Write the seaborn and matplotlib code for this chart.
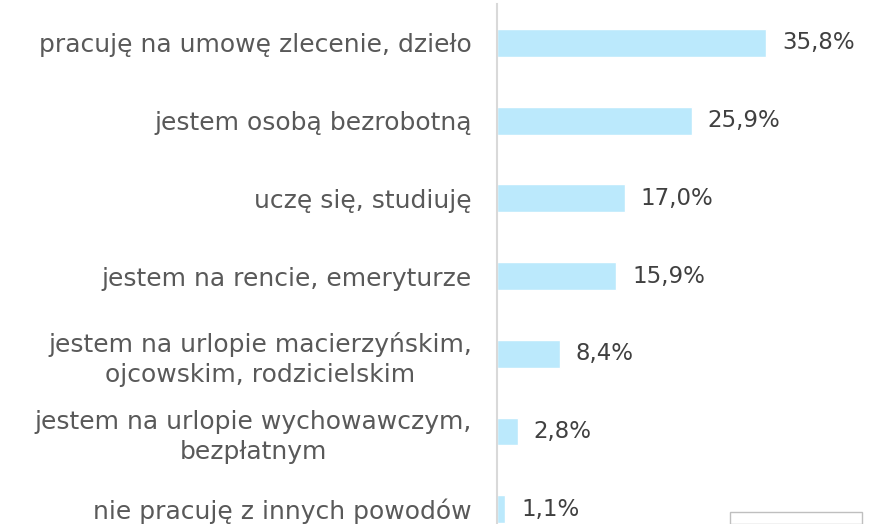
import matplotlib.pyplot as plt
import seaborn as sns
import pandas as pd
from matplotlib.patches import Rectangle

# data
categories = [
    "pracuję na umowę zlecenie, dzieło",
    "jestem osobą bezrobotną",
    "uczę się, studiuję",
    "jestem na rencie, emeryturze",
    "jestem na urlopie macierzyńskim,\nojcowskim, rodzicielskim",
    "jestem na urlopie wychowawczym,\nbezpłatnym",
    "nie pracuję z innych powodów",
]
values = [35.8, 25.9, 17.0, 15.9, 8.4, 2.8, 1.1]
value_labels = ["35,8%", "25,9%", "17,0%", "15,9%", "8,4%", "2,8%", "1,1%"]

df = pd.DataFrame({"category": categories, "value": values})

sns.set_style("white")
plt.rcParams['font.family'] = ['DejaVu Sans']

W, H = 872, 524
fig = plt.figure(figsize=(W / 100, H / 100), dpi=100)
fig.patch.set_facecolor('white')

# axes placed in pixel terms: left spine at x=497, top at y=4, running past the bottom edge
ax = fig.add_axes([497 / W, 0, 1 - 497 / W, (H - 4) / H])
ax.set_facecolor('white')

sns.barplot(data=df, x="value", y="category", orient="h",
            color="#BBE9FC", saturation=1, width=0.36, ax=ax)

ax.set_xlim(0, 49.9)
ax.set_ylim(6.19, -0.5)

for i, (v, lab) in enumerate(zip(values, value_labels)):
    ax.text(v + 2.1, i, lab, va='center', ha='left', fontsize=16.5, color='#404040')

for s in ['top', 'right', 'bottom']:
    ax.spines[s].set_visible(False)
ax.spines['left'].set_color('#d9d9d9')
ax.spines['left'].set_linewidth(1.5)

ax.set_xticks([])
ax.set_xlabel("")
ax.set_ylabel("")
ax.tick_params(axis='y', length=0, pad=18, labelsize=18, labelcolor='#595959')
for t in ax.get_yticklabels():
    t.set_multialignment('center')
    t.set_linespacing(1.32)

# partially visible legend frame at the bottom right
fig.patches.append(Rectangle((730 / W, 0), 132 / W, 12 / H, transform=fig.transFigure,
                             facecolor='white', edgecolor='#bfbfbf', linewidth=1))

plt.savefig("out.png", dpi=100, facecolor=fig.get_facecolor())
plt.close()
